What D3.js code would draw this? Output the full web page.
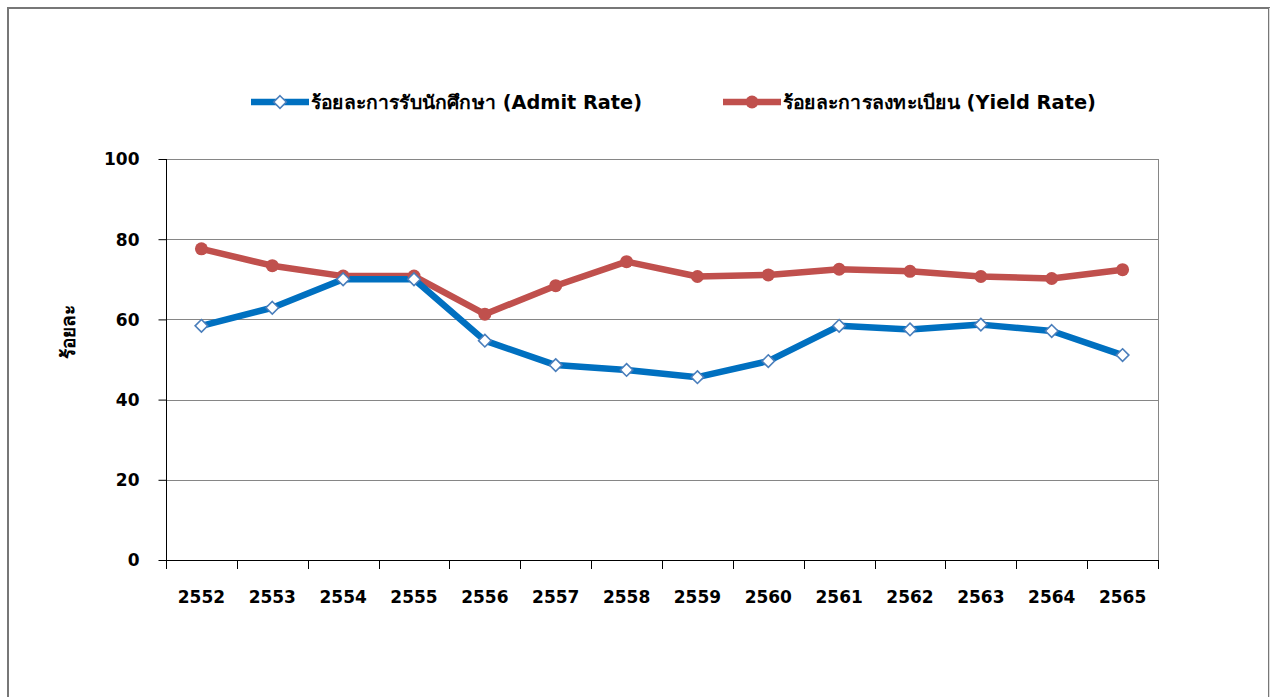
<!DOCTYPE html>
<html><head><meta charset="utf-8">
<script src="https://cdn.jsdelivr.net/npm/d3@7"></script>
<style>
html,body{margin:0;padding:0;background:#fff;}
svg{display:block;}
text{font-family:Tahoma,"DejaVu Sans","Noto Sans",sans-serif;font-weight:bold;fill:#000;}
</style></head>
<body>
<svg id="chart" width="1270" height="697"></svg>
<script>
const years = ["2552","2553","2554","2555","2556","2557","2558","2559","2560","2561","2562","2563","2564","2565"];
const admitRate = [58.4,62.9,70.0,70.0,54.7,48.6,47.4,45.6,49.6,58.4,57.5,58.7,57.1,51.1];
const yieldRate = [77.6,73.4,70.8,70.8,61.3,68.4,74.4,70.7,71.1,72.5,72.0,70.7,70.2,72.4];
const yTicks = [0,20,40,60,80,100];
const seriesNames = ["ร้อยละการรับนักศึกษา (Admit Rate)","ร้อยละการลงทะเบียน (Yield Rate)"];
const yTitle = "ร้อยละ";

const svg = d3.select("#chart");
const blue = "#0070c0", blueMarker = "#4a7ebb", red = "#c0504d";

// outer frame
svg.append("rect").attr("x",8).attr("y",8).attr("width",1261).attr("height",720)
  .attr("fill","none").attr("stroke","#777").attr("stroke-width",2);
svg.append("line").attr("x1",1269.5).attr("x2",1269.5).attr("y1",8).attr("y2",697)
  .attr("stroke","#ddd").attr("stroke-width",1);

const L = 166, R = 1158, T = 159, B = 560;
const x = d3.scaleBand().domain(years).range([L,R]).padding(0);
const y = d3.scaleLinear().domain([0,100]).range([B,T]);
const cx = d => x(d) + x.bandwidth()/2;

// gridlines
svg.append("g").selectAll("line").data(yTicks.filter(t=>t>0)).join("line")
  .attr("x1",L).attr("x2",R).attr("y1",d=>Math.round(y(d))+0.5).attr("y2",d=>Math.round(y(d))+0.5)
  .attr("stroke","#868686").attr("stroke-width",1);
svg.append("line").attr("x1",R+0.5).attr("x2",R+0.5).attr("y1",T).attr("y2",B)
  .attr("stroke","#868686").attr("stroke-width",1);

// y axis
const yAxis = d3.axisLeft(y).tickValues(yTicks).tickSize(8).tickPadding(19).tickSizeOuter(0);
const gy = svg.append("g").attr("transform",`translate(${L+0.5},0)`).call(yAxis);
gy.select(".domain").attr("stroke","#000").attr("d",`M0,${T}V${B+8}`);
gy.selectAll(".tick line").attr("stroke","#000");
gy.selectAll(".tick text").style("font-size","17px").attr("dy","0.35em").attr("fill","#000");

// x axis
const xAxis = d3.axisBottom(x).tickSize(0).tickPadding(30);
const gx = svg.append("g").attr("transform",`translate(0,${B+0.5})`).call(xAxis);
gx.select(".domain").attr("stroke","#000").attr("d",`M${L},0H${R}`);
gx.selectAll(".tick text").style("font-size","17px").attr("fill","#000");
const bounds = years.map(d=>x(d)).concat([R]);
svg.append("g").selectAll("line").data(bounds).join("line")
  .attr("x1",d=>Math.round(d)+0.5).attr("x2",d=>Math.round(d)+0.5).attr("y1",B).attr("y2",B+9)
  .attr("stroke","#000").attr("stroke-width",1);

// y title
svg.append("text").attr("transform",`translate(75,332) rotate(-90)`)
  .attr("text-anchor","middle").style("font-size","19px").text(yTitle);

// lines
const line = d3.line().x((d,i)=>cx(years[i])).y(d=>y(d));
svg.append("path").datum(yieldRate).attr("d",line).attr("fill","none")
  .attr("stroke",red).attr("stroke-width",6.5).attr("stroke-linejoin","round");
svg.append("path").datum(admitRate).attr("d",line).attr("fill","none")
  .attr("stroke",blue).attr("stroke-width",6.5).attr("stroke-linejoin","round");

svg.append("g").selectAll("circle").data(yieldRate).join("circle")
  .attr("cx",(d,i)=>cx(years[i])).attr("cy",d=>y(d)).attr("r",6.5).attr("fill",red);

const diamond = (px,py,s)=>`M${px},${py-s}L${px+s},${py}L${px},${py+s}L${px-s},${py}Z`;
svg.append("g").selectAll("path").data(admitRate).join("path")
  .attr("d",(d,i)=>diamond(cx(years[i]),y(d),6.3)).attr("fill","#fff")
  .attr("stroke",blueMarker).attr("stroke-width",1.6);

// legend
const ly = 102;
const lg = svg.append("g");
lg.append("line").attr("x1",251).attr("x2",309).attr("y1",ly).attr("y2",ly).attr("stroke",blue).attr("stroke-width",6.5);
lg.append("path").attr("d",diamond(280,ly,6.3)).attr("fill","#fff").attr("stroke",blueMarker).attr("stroke-width",1.6);
const t1 = lg.append("text").attr("x",311).attr("y",ly).attr("dy","0.35em").style("font-size","19px").text(seriesNames[0]);
lg.append("line").attr("x1",723).attr("x2",781).attr("y1",ly).attr("y2",ly).attr("stroke",red).attr("stroke-width",6.5);
lg.append("circle").attr("cx",752).attr("cy",ly).attr("r",6.5).attr("fill",red);
const t2 = lg.append("text").attr("x",783).attr("y",ly).attr("dy","0.35em").style("font-size","19px").text(seriesNames[1]);
// fit legend text widths to the reference
t1.attr("textLength",331).attr("lengthAdjust","spacingAndGlyphs");
t2.attr("textLength",313).attr("lengthAdjust","spacingAndGlyphs");
</script>
</body></html>
